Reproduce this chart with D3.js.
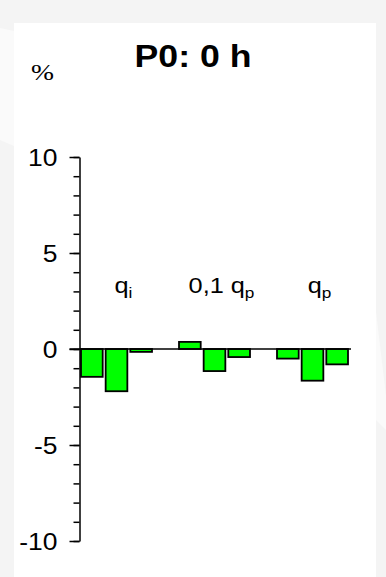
<!DOCTYPE html>
<html>
<head>
<meta charset="utf-8">
<script src="https://cdn.jsdelivr.net/npm/d3@7"></script>
<style>
  html, body { margin: 0; padding: 0; background: #f4f4f4; }
  svg { display: block; }
</style>
</head>
<body>
<svg id="chart" width="386" height="577"></svg>
<script>
// Group labels: main symbol and its subscript
const groupMain = ["q", "0,1 q", "q"];
const groupSub = ["i", "p", "p"];
const groupKeys = ["qi", "01qp", "qp"];

// Three bars per group (% change)
const seriesA = [-1.45, 0.37, -0.5];
const seriesB = [-2.2, -1.15, -1.65];
const seriesC = [-0.15, -0.42, -0.8];

const yMajorTicks = [-10, -5, 0, 5, 10];
const yMinorTicks = d3.range(-10, 11, 1);

const titleText = "P0: 0 h";
const unitText = "%";

const svg = d3.select("#chart");
const W = 386, H = 577;
const stretch = 1.15; // horizontal stretch of the lettering

// page background and white panel
svg.append("rect").attr("width", W).attr("height", H).attr("fill", "#f4f4f4");
svg.append("polygon").attr("points", "0,28 14,31 14,146 0,140").attr("fill", "#fafafa");
svg.append("polygon").attr("points", "376,312 386,396 386,430 376,420").attr("fill", "#fafafa");
svg.append("rect").attr("x", 14).attr("y", 23).attr("width", 362).attr("height", H - 23).attr("fill", "#ffffff");

const font = "'Liberation Sans', Arial, Helvetica, sans-serif";

const y = d3.scaleLinear().domain([-10, 10]).range([541, 157]);
const axisX = 79.5;

const xGroup = d3.scaleBand().domain(groupKeys).range([81, 348]).paddingInner(27 / 98).paddingOuter(0);
const xInner = d3.scaleBand().domain([0, 1, 2]).range([0, xGroup.bandwidth()]).paddingInner(0.12);

// minor ticks
const minorAxis = d3.axisLeft(y).tickValues(yMinorTicks).tickSize(6).tickFormat("");
const gMinor = svg.append("g").attr("transform", `translate(${axisX},0)`).call(minorAxis);
gMinor.select(".domain").remove();
gMinor.selectAll("line").attr("stroke", "#000").attr("stroke-width", 1.5);

// major ticks with labels
const majorAxis = d3.axisLeft(y).tickValues(yMajorTicks).tickSize(10).tickSizeOuter(0).tickFormat(d3.format("d"));
const gMajor = svg.append("g").attr("transform", `translate(${axisX},0)`).call(majorAxis);
gMajor.select(".domain").attr("stroke", "#000").attr("stroke-width", 1.5);
gMajor.selectAll("line").attr("stroke", "#000").attr("stroke-width", 1.5);
gMajor.selectAll("text")
  .attr("font-family", font).attr("font-size", 23).attr("fill", "#000")
  .attr("x", -22 / stretch).attr("dy", "0.38em")
  .attr("transform", `scale(${stretch},1)`)
  .text(d => d < 0 ? "-" + Math.abs(d) : String(d));

// bars
const rows = groupKeys.map((k, i) => ({ key: k, vals: [seriesA[i], seriesB[i], seriesC[i]] }));
const gBars = svg.append("g");
rows.forEach(r => {
  gBars.selectAll(null).data(r.vals).enter().append("rect")
    .attr("x", (d, j) => xGroup(r.key) + xInner(j))
    .attr("width", xInner.bandwidth())
    .attr("y", d => y(Math.max(0, d)))
    .attr("height", d => Math.abs(y(d) - y(0)))
    .attr("fill", "#00ff00")
    .attr("stroke", "#000")
    .attr("stroke-width", 1.8);
});

// zero line
svg.append("line")
  .attr("x1", axisX - 10).attr("x2", xGroup.range()[1] + 3)
  .attr("y1", y(0)).attr("y2", y(0))
  .attr("stroke", "#000").attr("stroke-width", 1.5);

// group labels with subscripts
groupKeys.forEach((k, i) => {
  const cx = xGroup(k) + xGroup.bandwidth() / 2 + 7;
  const t = svg.append("text")
    .attr("transform", `translate(${cx},293) scale(${stretch},1)`)
    .attr("text-anchor", "middle")
    .attr("font-family", font).attr("font-size", 22).attr("fill", "#000");
  t.append("tspan").text(groupMain[i]);
  t.append("tspan").attr("font-size", 15).attr("dy", 5).text(groupSub[i]);
});

// title
svg.append("text")
  .attr("transform", `translate(193,67) scale(${stretch},1)`)
  .attr("text-anchor", "middle")
  .attr("font-family", font).attr("font-weight", "bold").attr("font-size", 31)
  .attr("fill", "#000").text(titleText);

// unit
svg.append("text")
  .attr("transform", `translate(31,80) scale(${stretch},1)`)
  .attr("font-family", "'Liberation Serif', 'Times New Roman', serif").attr("font-size", 24)
  .attr("fill", "#000").text(unitText);
</script>
</body>
</html>
